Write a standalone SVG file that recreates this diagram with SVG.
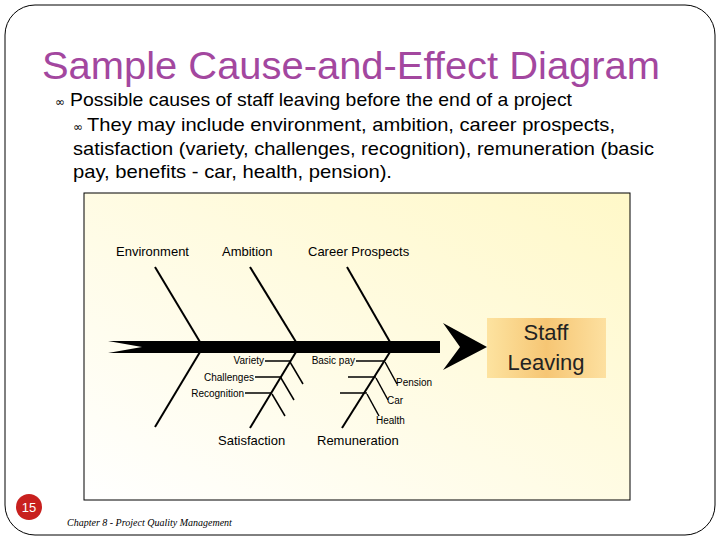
<svg xmlns="http://www.w3.org/2000/svg" width="720" height="540" viewBox="0 0 720 540">
<defs>
<linearGradient id="bg" x1="1" y1="0" x2="0" y2="1"><stop offset="0" stop-color="#fff8c8"/><stop offset="1" stop-color="#ffffff"/></linearGradient>
<linearGradient id="box" x1="0" y1="0" x2="1" y2="0"><stop offset="0" stop-color="#fde3a0"/><stop offset="0.5" stop-color="#f6c674"/><stop offset="1" stop-color="#fde0a0"/></linearGradient>
<style>
.b{stroke:#000;stroke-width:2;fill:none}
.t{stroke:#000;stroke-width:1.5;fill:none}
.lab{font-family:"Liberation Sans",Arial,sans-serif;font-size:13px;fill:#000}
.sm{font-family:"Liberation Sans",Arial,sans-serif;font-size:10px;fill:#000}
.body{font-family:"Liberation Sans",Arial,sans-serif;font-size:19px;fill:#000}
.bul{font-family:"DejaVu Sans",sans-serif;font-size:12px;fill:#000}
</style>
</defs>
<rect x="0" y="0" width="720" height="540" fill="#fff"/>
<rect x="5" y="5" width="710" height="530" rx="30" fill="none" stroke="#000" stroke-width="1"/>
<text x="42" y="79" font-family="Liberation Sans,Arial,sans-serif" font-size="38" fill="#a3479f" textLength="618" lengthAdjust="spacingAndGlyphs">Sample Cause-and-Effect Diagram</text>
<text class="bul" x="55" y="106">∞</text>
<text class="body" x="70" y="106" textLength="502" lengthAdjust="spacingAndGlyphs">Possible causes of staff leaving before the end of a project</text>
<text class="bul" x="73" y="131">∞</text>
<text class="body" x="87" y="131" textLength="528" lengthAdjust="spacingAndGlyphs">They may include environment, ambition, career prospects,</text>
<text class="body" x="73" y="155" textLength="581" lengthAdjust="spacingAndGlyphs">satisfaction (variety, challenges, recognition), remuneration (basic</text>
<text class="body" x="73" y="178" textLength="319" lengthAdjust="spacingAndGlyphs">pay, benefits - car, health, pension).</text>
<rect x="84" y="193" width="546" height="307" fill="url(#bg)" stroke="#000" stroke-width="1"/>
<g id="connectors">
<polygon points="108,341 440,341 440,353 108,353 142,347" fill="#000"/>
<polygon points="443,323 487,347 443,370 460,347" fill="#000"/>
<line class="b" x1="155" y1="267" x2="200" y2="342"/>
<line class="b" x1="200" y1="352" x2="155" y2="427"/>
<line class="b" x1="250" y1="267" x2="296" y2="342"/>
<line class="b" x1="296" y1="352" x2="250" y2="428"/>
<line class="b" x1="347" y1="267" x2="390" y2="342"/>
<line class="b" x1="390" y1="352" x2="342" y2="428"/>
<line class="t" x1="265" y1="361" x2="291" y2="361"/>
<line class="t" x1="255" y1="377" x2="282" y2="377"/>
<line class="t" x1="245" y1="393" x2="272" y2="393"/>
<line class="t" x1="290" y1="362" x2="303" y2="384"/>
<line class="t" x1="281" y1="378" x2="294" y2="400"/>
<line class="t" x1="272" y1="394" x2="285" y2="416"/>
<line class="t" x1="356" y1="361" x2="385" y2="361"/>
<line class="t" x1="348" y1="377" x2="376" y2="377"/>
<line class="t" x1="340" y1="393" x2="367" y2="393"/>
<line class="t" x1="385" y1="362" x2="397" y2="384"/>
<line class="t" x1="376" y1="378" x2="388" y2="400"/>
<line class="t" x1="367" y1="394" x2="379" y2="416"/>
</g>
<g id="effect">
<rect x="487" y="318" width="119" height="60" fill="url(#box)"/>
<text x="546" y="340" text-anchor="middle" font-family="Liberation Sans,Arial,sans-serif" font-size="22" fill="#222">Staff</text>
<text x="546" y="370" text-anchor="middle" font-family="Liberation Sans,Arial,sans-serif" font-size="22" fill="#222">Leaving</text>
</g>
<g id="environment"><text class="lab" x="116" y="256">Environment</text></g>
<g id="ambition"><text class="lab" x="222" y="256">Ambition</text></g>
<g id="career"><text class="lab" x="308" y="256">Career Prospects</text></g>
<g id="satisfaction"><text class="lab" x="218" y="445">Satisfaction</text>
<text class="sm" x="264" y="364" text-anchor="end">Variety</text>
<text class="sm" x="254" y="381" text-anchor="end">Challenges</text>
<text class="sm" x="244" y="397" text-anchor="end">Recognition</text></g>
<g id="remuneration"><text class="lab" x="317" y="445">Remuneration</text>
<text class="sm" x="355" y="364" text-anchor="end">Basic pay</text>
<text class="sm" x="396" y="386">Pension</text>
<text class="sm" x="387" y="404">Car</text>
<text class="sm" x="376" y="424">Health</text></g>
<circle cx="29" cy="507" r="13" fill="#c8201e"/>
<text x="29" y="512" text-anchor="middle" font-family="Liberation Sans,Arial,sans-serif" font-size="13" fill="#fff">15</text>
<text x="67" y="526" font-family="Liberation Serif,serif" font-style="italic" font-size="10" fill="#000">Chapter 8 - Project Quality Management</text>
</svg>
